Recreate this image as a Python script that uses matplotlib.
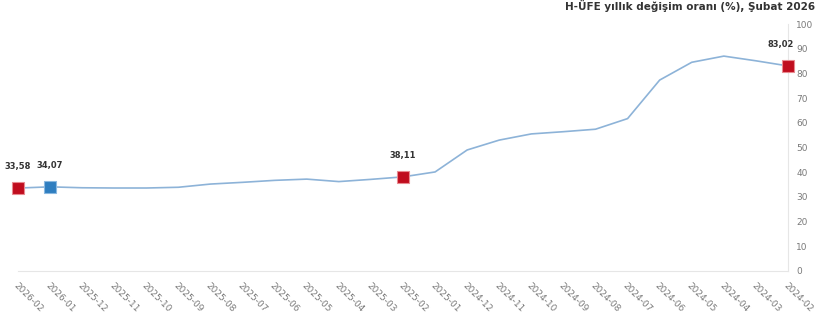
import numpy as np
import matplotlib
matplotlib.use("Agg")
import matplotlib.pyplot as plt

# monthly H-UFE annual change, oldest first
months = ["2024-02", "2024-03", "2024-04", "2024-05", "2024-06", "2024-07",
          "2024-08", "2024-09", "2024-10", "2024-11", "2024-12", "2025-01",
          "2025-02", "2025-03", "2025-04", "2025-05", "2025-06", "2025-07",
          "2025-08", "2025-09", "2025-10", "2025-11", "2025-12", "2026-01",
          "2026-02"]
values = [83.02, 85.1, 87.0, 84.5, 77.3, 61.7,
          57.4, 56.4, 55.5, 53.0, 49.0, 40.1,
          38.11, 37.1, 36.2, 37.2, 36.7, 35.9,
          35.2, 33.9, 33.6, 33.6, 33.7, 34.07,
          33.58]

# highlighted points: (month, label)
red_points = ["2024-02", "2025-02", "2026-02"]
blue_points = ["2026-01"]
point_labels = {"2024-02": "83,02", "2025-02": "38,11",
                "2026-01": "34,07", "2026-02": "33,58"}

title = "H-ÜFE yıllık değişim oranı (%), Şubat 2026"
yticks = [0, 10, 20, 30, 40, 50, 60, 70, 80, 90, 100]

x = np.arange(len(months))

fig = plt.figure(figsize=(8.2, 3.12), dpi=100)
ax = fig.add_axes([18 / 820, 41 / 312, 770 / 820, 247 / 312])

ax.plot(x, values, color="#8db3d8", lw=1.2, zorder=2)

for m in red_points:
    i = months.index(m)
    ax.plot(x[i], values[i], marker="s", ms=8, color="#c00d1e",
            mec="#e88a90", mew=0.8, zorder=3, clip_on=False)
for m in blue_points:
    i = months.index(m)
    ax.plot(x[i], values[i], marker="s", ms=8, color="#2f7ec0",
            mec="#8ab8e0", mew=0.8, zorder=3, clip_on=False)

for m, lab in point_labels.items():
    i = months.index(m)
    dx = -5 if m == "2024-02" else 0
    ax.annotate(lab, (x[i], values[i]), xytext=(dx, 12), textcoords="offset points",
                ha="center", va="bottom", fontsize=6, fontweight="bold",
                color="#333333")

# layout mirrors the reference: newest month on the left, value axis on the right
ax.set_xlim(len(months) - 1, 0)
ax.set_ylim(0, 100)
ax.set_yticks(yticks)
ax.yaxis.tick_right()
ax.set_xticks(x)
ax.set_xticklabels(months, rotation=-45, ha="left", va="top",
                   rotation_mode="anchor")
ax.tick_params(axis="both", length=0, labelsize=6.5, labelcolor="#7a7a7a")
ax.tick_params(axis="x", pad=7)
ax.tick_params(axis="y", pad=6)

for s in ["top", "left"]:
    ax.spines[s].set_visible(False)
ax.spines["right"].set_color("#e6e6e6")
ax.spines["bottom"].set_color("#e6e6e6")
ax.spines["right"].set_linewidth(0.8)
ax.spines["bottom"].set_linewidth(0.8)

fig.text(815 / 820, 1 - 6 / 312, title, ha="right", va="center",
         fontsize=7.5, fontweight="bold", color="#333333")

fig.savefig("out.png", dpi=100)
